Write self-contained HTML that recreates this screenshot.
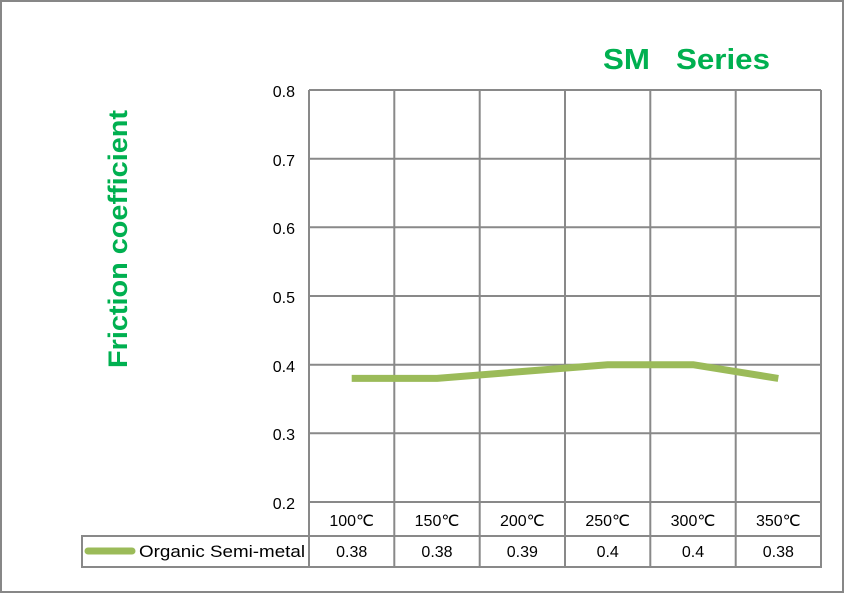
<!DOCTYPE html>
<html><head><style>
body{margin:0;background:#fff}
svg{display:block}
text{font-family:"Liberation Sans",sans-serif}
</style></head><body>
<svg width="844" height="593" viewBox="0 0 844 593">
<rect x="1" y="1" width="842" height="591" fill="#fff" stroke="#878787" stroke-width="2"/>
<text x="603" y="69" font-size="29" font-weight="bold" fill="#00b050" xml:space="preserve" textLength="167" lengthAdjust="spacingAndGlyphs">SM   Series</text>
<text transform="translate(127,239) rotate(-90)" text-anchor="middle" font-size="27" font-weight="bold" fill="#00b050" textLength="258" lengthAdjust="spacingAndGlyphs">Friction coefficient</text>
<g stroke="#898989" stroke-width="2" fill="none">
<line x1="309" y1="90" x2="821" y2="90"/>
<line x1="309" y1="158.7" x2="821" y2="158.7"/>
<line x1="309" y1="227.3" x2="821" y2="227.3"/>
<line x1="309" y1="296" x2="821" y2="296"/>
<line x1="309" y1="364.7" x2="821" y2="364.7"/>
<line x1="309" y1="433.3" x2="821" y2="433.3"/>
<line x1="309" y1="502" x2="821" y2="502"/>
<line x1="309" y1="90" x2="309" y2="567"/>
<line x1="394.3" y1="90" x2="394.3" y2="567"/>
<line x1="479.7" y1="90" x2="479.7" y2="567"/>
<line x1="565" y1="90" x2="565" y2="567"/>
<line x1="650.3" y1="90" x2="650.3" y2="567"/>
<line x1="735.7" y1="90" x2="735.7" y2="567"/>
<line x1="821" y1="90" x2="821" y2="567"/>
<rect x="82" y="536" width="739" height="31"/>
</g>
<g font-size="16" fill="#000" text-anchor="end">
<text x="295" y="97">0.8</text>
<text x="295" y="166">0.7</text>
<text x="295" y="234">0.6</text>
<text x="295" y="303">0.5</text>
<text x="295" y="372">0.4</text>
<text x="295" y="440">0.3</text>
<text x="295" y="509">0.2</text>
</g>
<g font-size="16" fill="#000" text-anchor="middle">
<text x="351.7" y="526">100℃</text>
<text x="437" y="526">150℃</text>
<text x="522.3" y="526">200℃</text>
<text x="607.7" y="526">250℃</text>
<text x="693" y="526">300℃</text>
<text x="778.3" y="526">350℃</text>
<text x="351.7" y="557">0.38</text>
<text x="437" y="557">0.38</text>
<text x="522.3" y="557">0.39</text>
<text x="607.7" y="557">0.4</text>
<text x="693" y="557">0.4</text>
<text x="778.3" y="557">0.38</text>
</g>
<line x1="88" y1="551" x2="132" y2="551" stroke="#9bbb59" stroke-width="7" stroke-linecap="round"/>
<text x="139" y="557" font-size="17" fill="#000" textLength="166" lengthAdjust="spacingAndGlyphs">Organic Semi-metal</text>
<polyline points="351.7,378.4 437,378.4 522.3,371.5 607.7,364.7 693,364.7 778.3,378.4" fill="none" stroke="#9bbb59" stroke-width="7" stroke-linejoin="round"/>
</svg>
</body></html>
